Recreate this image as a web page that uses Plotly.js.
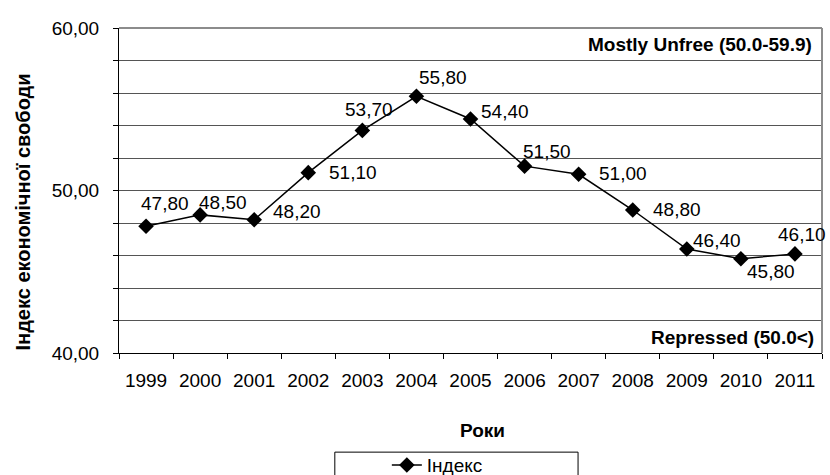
<!DOCTYPE html>
<html>
<head>
<meta charset="utf-8">
<script src="https://cdn.plot.ly/plotly-3.0.1.min.js"></script>
<style>
  html, body { margin: 0; padding: 0; background: #fff; }
  #chart { width: 830px; height: 475px; }
</style>
</head>
<body>
<div id="chart"></div>
<script>
// ---- data ----
const years = ['1999','2000','2001','2002','2003','2004','2005','2006','2007','2008','2009','2010','2011'];
const indexValues = [47.8, 48.5, 48.2, 51.1, 53.7, 55.8, 54.4, 51.5, 51.0, 48.8, 46.4, 45.8, 46.1];
const yTickValues = [40, 50, 60];
const seriesName = 'Індекс';
const yTitle = 'Індекс економічної свободи';
const xTitle = 'Роки';
const zoneTop = 'Mostly Unfree (50.0-59.9)';
const zoneBottom = 'Repressed (50.0<)';

// ---- label placement (style only: pixel offsets of each value label) ----
const labelDx = [19, 23, 43, 45, 7, 27, 34, 22, 44, 44, 30, 30, 7];
const labelDy = [-23, -12, -8, 0, -21, -19, -8, -15, -1, -1, -9, 13, -19];

const FONT = 'Arial, "Liberation Sans", sans-serif';
const fmt = v => v.toFixed(2).replace('.', ',');

const trace = {
  type: 'scatter',
  mode: 'lines+markers',
  x: years,
  y: indexValues,
  name: seriesName,
  line: { color: '#000', width: 1.5 },
  marker: { symbol: 'diamond', size: 12, color: '#000' },
  hoverinfo: 'x+y'
};

const labelAnnotations = years.map((yr, i) => ({
  x: i, y: indexValues[i], xref: 'x', yref: 'y',
  text: fmt(indexValues[i]),
  showarrow: false,
  xanchor: 'center', yanchor: 'middle',
  xshift: labelDx[i], yshift: -labelDy[i],
  font: { family: FONT, size: 19, color: '#000' }
}));

const layout = {
  width: 830, height: 475,
  margin: { l: 119, r: 8, t: 28, b: 122, autoexpand: false },
  paper_bgcolor: '#fff', plot_bgcolor: '#fff',
  font: { family: FONT, size: 18, color: '#000' },
  showlegend: true,
  legend: {
    orientation: 'h',
    x: 0.381, xanchor: 'left',
    y: -0.345, yanchor: 'middle',
    font: { family: FONT, size: 19, color: '#000' },
    bgcolor: 'rgba(0,0,0,0)',
    itemwidth: 30
  },
  xaxis: {
    type: 'category',
    categoryorder: 'array', categoryarray: years,
    range: [-0.5, years.length - 0.5],
    showline: true, linecolor: '#000', linewidth: 1,
    ticks: 'outside', tickson: 'boundaries', ticklen: 5, tickcolor: '#000',
    tickangle: 0,
    ticklabelstandoff: 10,
    showgrid: false, zeroline: false,
    tickfont: { family: FONT, size: 19, color: '#000' },
    fixedrange: true
  },
  yaxis: {
    range: [40, 60],
    tickvals: yTickValues,
    ticktext: yTickValues.map(fmt),
    showline: true, linecolor: '#000', linewidth: 1,
    ticks: 'outside', ticklen: 5, tickcolor: '#000',
    ticklabelstandoff: 10,
    showgrid: true, gridcolor: '#555555', gridwidth: 1,
    zeroline: false,
    minor: { dtick: 2, showgrid: true, gridcolor: '#555555', gridwidth: 1, ticks: 'outside', ticklen: 5, tickcolor: '#000' },
    tickfont: { family: FONT, size: 19, color: '#000' },
    fixedrange: true
  },
  shapes: [
    { type: 'line', xref: 'paper', yref: 'paper', x0: 0, x1: 1, y0: 1, y1: 1, line: { color: '#8c8c8c', width: 2 } },
    { type: 'line', xref: 'paper', yref: 'paper', x0: 1, x1: 1, y0: 0, y1: 1, line: { color: '#8c8c8c', width: 2 } },
    { type: 'rect', xref: 'paper', yref: 'paper', x0: 0.307, x1: 0.653, y0: -0.305, y1: -0.42, line: { color: '#000', width: 1 }, fillcolor: 'rgba(0,0,0,0)' }
  ],
  annotations: labelAnnotations.concat([
    { xref: 'paper', yref: 'paper', x: 1, y: 1, xanchor: 'right', yanchor: 'middle', xshift: -8, yshift: -16,
      text: '<b>' + zoneTop + '</b>', showarrow: false, font: { family: FONT, size: 19, color: '#000' } },
    { xref: 'paper', yref: 'paper', x: 1, y: 0, xanchor: 'right', yanchor: 'middle', xshift: -6, yshift: 16,
      text: '<b>' + zoneBottom + '</b>', showarrow: false, font: { family: FONT, size: 19, color: '#000' } },
    { xref: 'paper', yref: 'paper', x: 0, y: 0.5, xanchor: 'center', yanchor: 'middle', xshift: -97, yshift: -22,
      textangle: -90, text: '<b>' + yTitle + '</b>', showarrow: false, font: { family: FONT, size: 20, color: '#000' } },
    { xref: 'paper', yref: 'paper', x: 0.5, y: 0, xanchor: 'center', yanchor: 'middle', xshift: 12, yshift: -77,
      text: '<b>' + xTitle + '</b>', showarrow: false, font: { family: FONT, size: 19, color: '#000' } }
  ])
};

Plotly.newPlot('chart', [trace], layout, { displayModeBar: false, staticPlot: true });
</script>
</body>
</html>
